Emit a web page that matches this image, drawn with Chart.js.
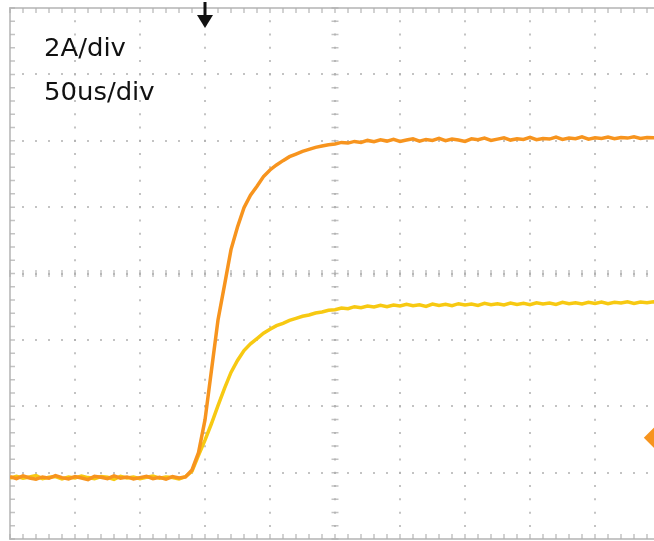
<!DOCTYPE html>
<html>
<head>
<meta charset="utf-8">
<script src="https://cdn.jsdelivr.net/npm/chart.js@4/dist/chart.umd.min.js"></script>
<style>
    html, body { margin: 0; padding: 0; background: #fff; overflow: hidden; }
    #wrap { position: absolute; left: 0; top: 0; width: 670px; height: 541px; }
</style>
</head>
<body>
<div id="wrap"><canvas id="scopeChart"></canvas></div>
<script>
// time axis in microseconds (50us/div), current in amps (2A/div)
const timeUs = [
    0, 5, 10, 15, 20, 25, 30, 35, 40, 45, 50, 55, 60, 65, 70, 75, 80, 85, 90, 95,
    100, 105, 110, 115, 120, 125, 130, 135, 140, 145, 150, 155, 160, 165, 170, 175, 180, 185, 190, 195,
    200, 205, 210, 215, 220, 225, 230, 235, 240, 245, 250, 255, 260, 265, 270, 275, 280, 285, 290, 295,
    300, 305, 310, 315, 320, 325, 330, 335, 340, 345, 350, 355, 360, 365, 370, 375, 380, 385, 390, 395,
    400, 405, 410, 415, 420, 425, 430, 435, 440, 445, 450, 455, 460, 465, 470, 475, 480, 485, 490, 495,
    500,
];

const orangeA = [
    -6.12, -6.18, -6.10, -6.16, -6.20, -6.13, -6.17, -6.09, -6.15, -6.19,
    -6.12, -6.16, -6.21, -6.11, -6.14, -6.18, -6.10, -6.17, -6.13, -6.19,
    -6.15, -6.11, -6.18, -6.14, -6.20, -6.12, -6.16, -6.13, -5.92, -5.40,
    -4.41, -2.91, -1.40, -0.35, 0.72, 1.40, 1.98, 2.36, 2.63, 2.92,
    3.12, 3.27, 3.40, 3.52, 3.60, 3.68, 3.74, 3.80, 3.84, 3.88,
    3.90, 3.95, 3.93, 3.98, 3.95, 4.01, 3.97, 4.03, 3.99, 4.04,
    3.98, 4.02, 4.06, 3.99, 4.04, 4.01, 4.07, 4.00, 4.05, 4.02,
    3.98, 4.06, 4.03, 4.08, 4.01, 4.05, 4.09, 4.02, 4.06, 4.04,
    4.10, 4.03, 4.07, 4.05, 4.11, 4.04, 4.08, 4.06, 4.12, 4.05,
    4.09, 4.07, 4.11, 4.06, 4.10, 4.08, 4.12, 4.07, 4.10, 4.09,
    4.11,
];

const yellowA = [
    -6.16, -6.11, -6.17, -6.13, -6.09, -6.18, -6.14, -6.12, -6.19, -6.13,
    -6.16, -6.10, -6.15, -6.18, -6.12, -6.14, -6.20, -6.11, -6.16, -6.13,
    -6.18, -6.14, -6.10, -6.17, -6.13, -6.15, -6.19, -6.12, -5.96, -5.48,
    -5.02, -4.52, -3.98, -3.46, -2.98, -2.62, -2.32, -2.12, -1.96, -1.80,
    -1.68, -1.57, -1.50, -1.41, -1.35, -1.29, -1.25, -1.19, -1.16, -1.11,
    -1.09, -1.04, -1.06, -1.00, -1.03, -0.98, -1.01, -0.96, -1.00, -0.95,
    -0.98, -0.93, -0.97, -0.94, -0.99, -0.92, -0.96, -0.93, -0.97, -0.91,
    -0.95, -0.92, -0.96, -0.90, -0.94, -0.91, -0.95, -0.89, -0.93, -0.90,
    -0.94, -0.88, -0.92, -0.89, -0.93, -0.87, -0.91, -0.88, -0.92, -0.87,
    -0.90, -0.86, -0.91, -0.87, -0.89, -0.85, -0.90, -0.86, -0.88, -0.85,
    -0.89,
];

const scaleLabels = ["2A/div", "50us/div"];
const triggerUs = 150;
const refMarker = { x: 496, y: -4.95 };

const ORANGE = "#f7941e";
const YELLOW = "#f7c912";
const GRID = "rgba(175,175,175,0.75)";

const scopeDecor = {
    id: "scopeDecor",
    beforeDatasetsDraw(chart) {
        const { ctx, chartArea: a, scales } = chart;
        const xs = scales.x;
        const ys = scales.y;
        ctx.save();
        ctx.strokeStyle = "#c6c6c6";
        ctx.lineWidth = 2;
        ctx.strokeRect(a.left, a.top, a.right - a.left, a.bottom - a.top);

        // minor ticks: 5 per division on the frame and centre cross
        ctx.strokeStyle = GRID;
        ctx.lineWidth = 1.5;
        ctx.beginPath();
        const cy = ys.getPixelForValue(0);
        const cx = xs.getPixelForValue(250);
        for (let t = 0; t <= 500; t += 10) {
            const px = xs.getPixelForValue(t);
            ctx.moveTo(px, a.top); ctx.lineTo(px, a.top + 5);
            ctx.moveTo(px, a.bottom); ctx.lineTo(px, a.bottom - 5);
            ctx.moveTo(px, cy - 3.5); ctx.lineTo(px, cy + 3.5);
        }
        for (let v = -8; v <= 8.001; v += 0.4) {
            const py = ys.getPixelForValue(v);
            ctx.moveTo(a.left, py); ctx.lineTo(a.left + 5, py);
            ctx.moveTo(cx - 3.5, py); ctx.lineTo(cx + 3.5, py);
        }
        ctx.stroke();
        ctx.restore();
    },
    afterDatasetsDraw(chart) {
        const { ctx, chartArea: a, scales } = chart;
        const tx = scales.x.getPixelForValue(triggerUs);
        ctx.save();
        ctx.fillStyle = "#111";
        ctx.fillRect(tx - 1.5, a.top - 6, 3, 14);
        ctx.beginPath();
        ctx.moveTo(tx - 8, a.top + 7);
        ctx.lineTo(tx + 8, a.top + 7);
        ctx.lineTo(tx, a.top + 20);
        ctx.closePath();
        ctx.fill();

        ctx.font = "24px 'DejaVu Sans', sans-serif";
        ctx.textBaseline = "alphabetic";
        scaleLabels.forEach((label, i) => {
            ctx.save();
            ctx.translate(44, 56 + i * 44);
            ctx.scale(1.08, 1);
            ctx.fillText(label, 0, 0);
            ctx.restore();
        });
        ctx.restore();
    },
};

new Chart(document.getElementById("scopeChart"), {
    type: "line",
    data: {
        datasets: [
            {
                label: "ch orange",
                data: timeUs.map((t, i) => ({ x: t, y: orangeA[i] })),
                borderColor: ORANGE,
                borderWidth: 3.5,
                pointRadius: 0,
                tension: 0,
            },
            {
                label: "ch yellow",
                data: timeUs.map((t, i) => ({ x: t, y: yellowA[i] })),
                borderColor: YELLOW,
                borderWidth: 3.5,
                pointRadius: 0,
                tension: 0,
            },
            {
                label: "ref",
                data: [refMarker],
                showLine: false,
                pointStyle: "rectRot",
                pointRadius: 11,
                backgroundColor: ORANGE,
                borderWidth: 0,
                clip: false,
            },
        ],
    },
    options: {
        responsive: true,
        maintainAspectRatio: false,
        animation: false,
        layout: {
            autoPadding: false,
            padding: { left: 10, top: 8, right: 10, bottom: 2 },
        },
        plugins: {
            legend: { display: false },
            tooltip: { enabled: false },
        },
        scales: {
            x: {
                type: "linear",
                min: 0,
                max: 500,
                ticks: { display: false, stepSize: 50 },
                grid: { color: GRID, lineWidth: 2, drawTicks: false },
                border: { display: false, dash: [2, 11.28], dashOffset: 1 },
                afterFit: (scale) => { scale.height = 0; },
            },
            y: {
                type: "linear",
                min: -8,
                max: 8,
                ticks: { display: false, stepSize: 2 },
                grid: { color: GRID, lineWidth: 2, drawTicks: false },
                border: { display: false, dash: [2, 11], dashOffset: 1 },
                afterFit: (scale) => { scale.width = 0; },
            },
        },
    },
    plugins: [scopeDecor],
});
</script>
</body>
</html>
